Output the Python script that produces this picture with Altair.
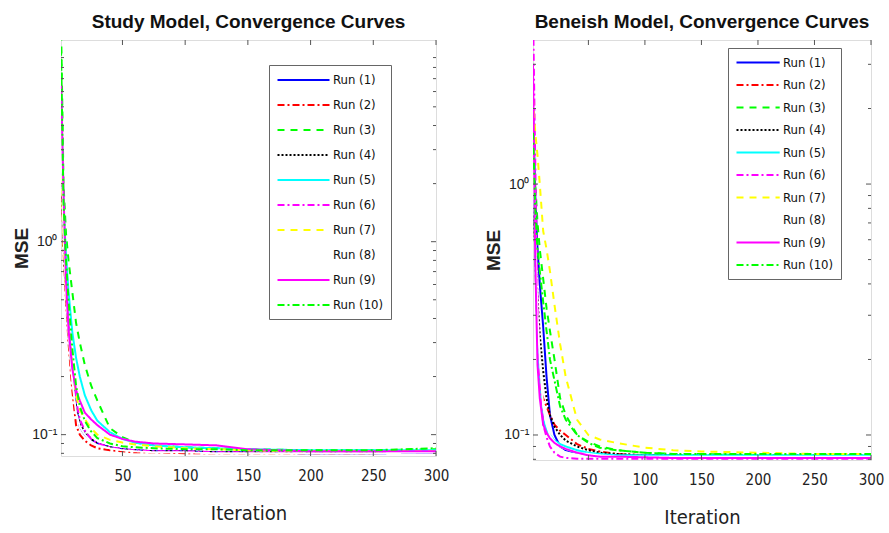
import altair as alt
import pandas as pd

# ---------------- data ----------------
ITER = [1, 3, 5, 7, 10, 13, 16, 20, 25, 30, 40, 50, 60, 75, 100, 125, 150, 200, 250, 300]
RUNS = [f"Run ({i})" for i in range(1, 11)]

# Study model (left panel)
STUDY_R1 = [4.0, 1.2, 0.6, 0.35, 0.2, 0.14, 0.11, 0.1, 0.094, 0.09, 0.086, 0.084, 0.083, 0.082, 0.082, 0.081, 0.081, 0.080, 0.080, 0.081]
STUDY_R2 = [3.0, 0.9, 0.5, 0.3, 0.17, 0.112, 0.1, 0.093, 0.088, 0.085, 0.083, 0.082, 0.081, 0.081, 0.080, 0.080, 0.080, 0.080, 0.080, 0.082]
STUDY_R3 = [14.0, 2.0, 1.1, 0.8, 0.55, 0.38, 0.3, 0.23, 0.18, 0.15, 0.108, 0.097, 0.091, 0.088, 0.086, 0.085, 0.084, 0.083, 0.083, 0.084]
STUDY_R4 = [3.5, 1.0, 0.55, 0.33, 0.2, 0.14, 0.115, 0.103, 0.095, 0.09, 0.086, 0.084, 0.083, 0.082, 0.082, 0.081, 0.081, 0.081, 0.081, 0.082]
STUDY_R5 = [6.0, 1.5, 0.85, 0.55, 0.34, 0.25, 0.2, 0.16, 0.134, 0.118, 0.103, 0.095, 0.091, 0.088, 0.086, 0.085, 0.084, 0.083, 0.083, 0.083]
STUDY_R6 = [5.0, 1.3, 0.6, 0.38, 0.22, 0.15, 0.12, 0.105, 0.095, 0.09, 0.086, 0.084, 0.083, 0.082, 0.082, 0.081, 0.081, 0.081, 0.081, 0.081]
STUDY_R7 = [3.0, 1.0, 0.55, 0.35, 0.22, 0.16, 0.135, 0.12, 0.108, 0.1, 0.094, 0.091, 0.089, 0.087, 0.085, 0.084, 0.083, 0.082, 0.082, 0.082]
STUDY_R8 = [4.0, 1.1, 0.55, 0.33, 0.19, 0.13, 0.11, 0.1, 0.092, 0.088, 0.085, 0.083, 0.082, 0.081, 0.081, 0.080, 0.080, 0.080, 0.080, 0.081]
STUDY_R9 = [7.0, 1.8, 0.62, 0.35, 0.22, 0.17, 0.15, 0.13, 0.12, 0.112, 0.1, 0.095, 0.092, 0.09, 0.089, 0.088, 0.084, 0.082, 0.082, 0.082]
STUDY_R10 = [10.0, 1.6, 0.8, 0.5, 0.28, 0.18, 0.14, 0.118, 0.104, 0.096, 0.09, 0.087, 0.086, 0.085, 0.084, 0.084, 0.083, 0.083, 0.083, 0.085]

# Beneish model (right panel)
BEN_R1 = [2.0, 0.9, 0.55, 0.4, 0.27, 0.17, 0.12, 0.1, 0.09, 0.087, 0.085, 0.084, 0.083, 0.083, 0.083, 0.083, 0.082, 0.082, 0.082, 0.082]
BEN_R2 = [1.5, 0.5, 0.25, 0.154, 0.14, 0.13, 0.12, 0.11, 0.104, 0.1, 0.092, 0.088, 0.086, 0.084, 0.083, 0.082, 0.082, 0.082, 0.082, 0.082]
BEN_R3 = [1.4, 1.0, 0.7, 0.55, 0.42, 0.32, 0.26, 0.2, 0.14, 0.12, 0.1, 0.094, 0.09, 0.087, 0.085, 0.084, 0.084, 0.083, 0.083, 0.083]
BEN_R4 = [0.9, 0.55, 0.35, 0.25, 0.18, 0.14, 0.12, 0.108, 0.1, 0.095, 0.09, 0.087, 0.085, 0.084, 0.083, 0.083, 0.083, 0.083, 0.083, 0.083]
BEN_R5 = [1.8, 0.5, 0.25, 0.16, 0.115, 0.105, 0.1, 0.095, 0.092, 0.09, 0.087, 0.085, 0.084, 0.083, 0.083, 0.083, 0.083, 0.083, 0.083, 0.083]
BEN_R6 = [5.0, 1.2, 0.35, 0.18, 0.11, 0.098, 0.09, 0.085, 0.082, 0.081, 0.0805, 0.0805, 0.0805, 0.0805, 0.0805, 0.0805, 0.0805, 0.0805, 0.0805, 0.0805]
BEN_R7 = [2.2, 1.6, 1.3, 1.0, 0.65, 0.55, 0.45, 0.33, 0.23, 0.17, 0.115, 0.1, 0.096, 0.093, 0.089, 0.087, 0.086, 0.085, 0.084, 0.084]
BEN_R8 = [1.5, 0.6, 0.3, 0.2, 0.13, 0.11, 0.1, 0.094, 0.09, 0.088, 0.085, 0.084, 0.083, 0.082, 0.082, 0.082, 0.082, 0.082, 0.082, 0.082]
BEN_R9 = [3.0, 0.5, 0.19, 0.14, 0.11, 0.102, 0.097, 0.093, 0.09, 0.088, 0.085, 0.083, 0.082, 0.082, 0.0815, 0.081, 0.081, 0.081, 0.081, 0.081]
BEN_R10 = [1.6, 0.8, 0.55, 0.45, 0.34, 0.26, 0.2, 0.165, 0.13, 0.115, 0.1, 0.093, 0.089, 0.087, 0.085, 0.084, 0.084, 0.084, 0.084, 0.084]

X_TICKS = [50, 100, 150, 200, 250, 300]
Y_MAJOR = [0.1, 1.0]
Y_MINOR = [0.08, 0.09, 0.2, 0.3, 0.4, 0.5, 0.6, 0.7, 0.8, 0.9, 2, 3, 4, 5, 6, 7, 8, 9]

COLORS = ["#0000ff", "#ff0000", "#00ff00", "#000000", "#00ffff",
          "#ff00ff", "#ffff00", "#ffffff", "#ff00ff", "#00ff00"]
DASHES = [[1, 0], [7, 3, 2, 3], [7, 6], [2, 2], [1, 0],
          [7, 3, 2, 3], [7, 6], [1, 0], [1, 0], [7, 3, 2, 3]]

NARROW = "Liberation Sans Narrow, Arial Narrow, DejaVu Sans Condensed, sans-serif"
BOLD = "Liberation Sans, Arial, sans-serif"


def make_df(series):
    rows = []
    for run, vals in zip(RUNS, series):
        for it, v in zip(ITER, vals):
            rows.append({"iter": it, "mse": v, "run": run})
    return pd.DataFrame(rows)


def panel(series, title, w, h, ydom, legx, legy, sym_s, sym_path, lab_off, rowpad):
    df = make_df(series)
    xs = alt.Scale(domain=[1, 300], nice=False, zero=False)
    ys = alt.Scale(type="log", domain=ydom, nice=False)
    x_axis = alt.Axis(
        values=X_TICKS, title="Iteration", grid=False, domain=False, tickSize=0,
        labelFlush=False,
        labelFont=NARROW, labelFontSize=15, labelColor="#222222", labelPadding=12,
        titleFont=NARROW, titleFontSize=20, titleFontWeight="normal",
        titleColor="#222222", titlePadding=20)
    y_axis = alt.Axis(
        values=Y_MAJOR, title="MSE", grid=False, domain=False, tickSize=0,
        labelFlush=False,
        labelExpr="datum.value >= 0.5 ? '10⁰' : '10⁻¹'",
        labelFont=BOLD, labelFontSize=14, labelColor="#222222", labelPadding=4,
        titleFont=BOLD, titleFontSize=19, titleFontWeight="bold",
        titleColor="#222222", titlePadding=0)
    leg = alt.Legend(
        orient="none", legendX=legx, legendY=legy, title=None,
        strokeColor="#666666", fillColor="white", padding=7,
        symbolType=sym_path, symbolSize=sym_s * sym_s, symbolStrokeWidth=2.2,
        labelFont=NARROW, labelFontSize=13, labelColor="#111111",
        rowPadding=rowpad, labelOffset=lab_off,
    )
    lines = alt.Chart(df).mark_line(strokeWidth=2, clip=True).encode(
        x=alt.X("iter:Q", scale=xs, axis=x_axis),
        y=alt.Y("mse:Q", scale=ys, axis=y_axis),
        color=alt.Color("run:N", scale=alt.Scale(domain=RUNS, range=COLORS), sort=RUNS, legend=leg),
        strokeDash=alt.StrokeDash("run:N", scale=alt.Scale(domain=RUNS, range=DASHES), sort=RUNS, legend=leg),
        order=alt.Order("iter:Q"),
    )
    xt = pd.DataFrame({"iter": X_TICKS})
    ymaj = pd.DataFrame({"mse": Y_MAJOR})
    ymin = pd.DataFrame({"mse": [v for v in Y_MINOR if ydom[0] <= v <= ydom[1]]})
    tc = "#555555"
    xb = alt.Chart(xt).mark_rule(color=tc).encode(
        x=alt.X("iter:Q", scale=xs, axis=x_axis), y=alt.value(h), y2=alt.value(h - 5))
    xtp = alt.Chart(xt).mark_rule(color=tc).encode(
        x=alt.X("iter:Q", scale=xs, axis=x_axis), y=alt.value(0), y2=alt.value(5))
    yl = alt.Chart(ymaj).mark_rule(color=tc).encode(
        y=alt.Y("mse:Q", scale=ys, axis=y_axis), x=alt.value(0), x2=alt.value(5))
    yr = alt.Chart(ymaj).mark_rule(color=tc).encode(
        y=alt.Y("mse:Q", scale=ys, axis=y_axis), x=alt.value(w), x2=alt.value(w - 5))
    yml = alt.Chart(ymin).mark_rule(color=tc).encode(
        y=alt.Y("mse:Q", scale=ys, axis=y_axis), x=alt.value(0), x2=alt.value(3))
    ymr = alt.Chart(ymin).mark_rule(color=tc).encode(
        y=alt.Y("mse:Q", scale=ys, axis=y_axis), x=alt.value(w), x2=alt.value(w - 3))
    return alt.layer(lines, xb, xtp, yl, yr, yml, ymr).properties(
        width=w, height=h,
        title=alt.TitleParams(title, font=BOLD, fontSize=19, fontWeight="bold",
                              color="#111111", anchor="middle", offset=8),
    )


left = panel([STUDY_R1, STUDY_R2, STUDY_R3, STUDY_R4, STUDY_R5,
              STUDY_R6, STUDY_R7, STUDY_R8, STUDY_R9, STUDY_R10],
             "Study Model, Convergence Curves", 375, 416, [0.0775, 11.1],
             208, 25, 13, "M-1,0H7", 41, 10)
right = panel([BEN_R1, BEN_R2, BEN_R3, BEN_R4, BEN_R5,
               BEN_R6, BEN_R7, BEN_R8, BEN_R9, BEN_R10],
              "Beneish Model, Convergence Curves", 338, 420, [0.0795, 3.75],
              195, 8, 12, "M-1,0H6.2", 33, 7.5)

chart = alt.hconcat(left, right, spacing=34).resolve_scale(
    color="independent", strokeDash="independent", x="independent", y="independent"
).resolve_legend(color="independent", strokeDash="independent").properties(
    padding={"left": 12, "top": 12, "right": 1, "bottom": 0}
).configure_view(stroke="#5a5a5a", strokeWidth=1.2).configure(background="white")

chart.save("out.html", embed_options={"renderer": "svg", "actions": False})
